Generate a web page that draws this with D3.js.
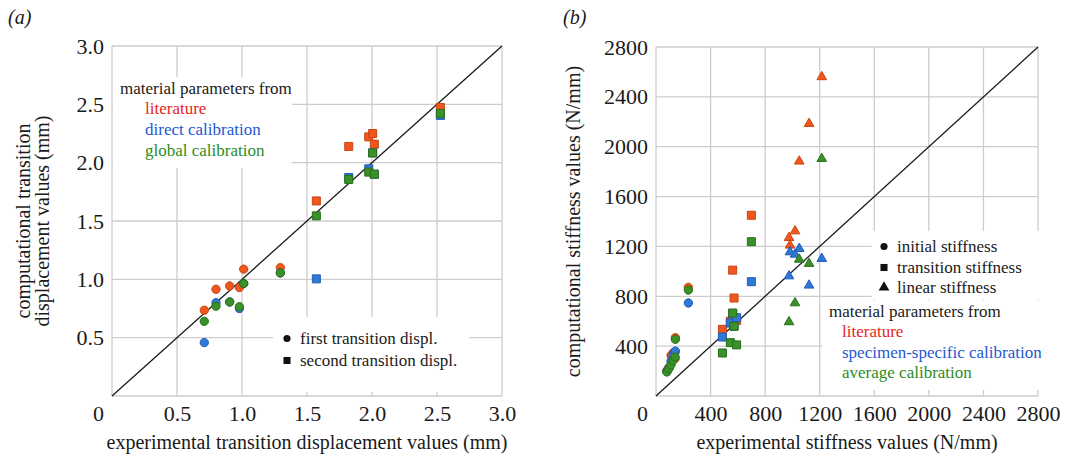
<!DOCTYPE html>
<html><head><meta charset="utf-8">
<script src="https://cdn.jsdelivr.net/npm/d3@7"></script>
<style>
html,body{margin:0;padding:0;background:#fff;}
svg{display:block;}
</style></head>
<body>
<svg id="chart" width="1067" height="460"></svg>
<script>
// ---- (a) transition displacements, mm ----
const dispTicks = [0.5, 1.0, 1.5, 2.0, 2.5, 3.0];
const firstExp     = [0.71, 0.80, 0.905, 0.98, 1.013, 1.295];
const firstLit     = [0.735, 0.915, 0.943, 0.93, 1.087, 1.10];
const firstDirect  = [0.458, 0.80, 0.806, 0.75, 0.964, 1.055];
const firstGlobal  = [0.64, 0.77, 0.806, 0.765, 0.964, 1.055];
const secondExp    = [1.572, 1.821, 1.975, 2.005, 2.018, 2.526];
const secondLit    = [1.672, 2.139, 2.221, 2.25, 2.159, 2.473];
const secondDirect = [1.004, 1.873, 1.947, 2.084, 1.901, 2.405];
const secondGlobal = [1.544, 1.856, 1.919, 2.084, 1.901, 2.422];

// ---- (b) stiffness values, N/mm ----
const stiffTicks = [400, 800, 1200, 1600, 2000, 2400, 2800];
const initialExp  = [80, 95, 110, 125, 140, 142, 237];
const initialLit  = [205, 230, 325, 345, 300, 468, 872];
const initialSpec = [200, 225, 280, 330, 355, 360, 746];
const initialAvg  = [193, 220, 250, 285, 313, 455, 850];
const transitionExp  = [487, 545, 562, 572, 591, 699];
const transitionLit  = [535, 600, 1010, 786, 605, 1450];
const transitionSpec = [473, 585, 660, 560, 628, 917];
const transitionAvg  = [345, 428, 666, 560, 410, 1238];
const linearExp  = [975, 982, 1019, 1050, 1122, 1215];
const linearLit  = [1270, 1209, 1323, 1883, 2185, 2560];
const linearSpec = [962, 1155, 1136, 1182, 888, 1102];
const linearAvg  = [594, null, 746, 1096, 1062, 1904];

const FONT = "'Liberation Serif','Times New Roman',Times,serif";
const PAL = {
  lit:  {fill: "#f0561e", stroke: "#c9450f", text: "#e5261b"},
  spec: {fill: "#2f78d6", stroke: "#1f5db5", text: "#1f57d4"},
  avg:  {fill: "#3a9129", stroke: "#2a6e1b", text: "#2d8c1d"}
};
const GRID = "#cdcdcd";

const svg = d3.select("#chart");

function drawPanel(o) {
  const g = svg.append("g");
  const gridL = g.append("g"), boxL = g.append("g"), diagL = g.append("g"),
        markL = g.append("g"), textL = g.append("g");
  const {x, y, ticks, fmt, max} = o;
  const all = [0, ...ticks];

  gridL.selectAll("line.v").data(all).join("line")
    .attr("x1", d => x(d)).attr("x2", d => x(d))
    .attr("y1", y(0)).attr("y2", y(max))
    .attr("stroke", GRID).attr("stroke-width", 1.3);
  gridL.selectAll("line.h").data(all).join("line")
    .attr("y1", d => y(d)).attr("y2", d => y(d))
    .attr("x1", x(0)).attr("x2", x(max))
    .attr("stroke", GRID).attr("stroke-width", 1.3);

  // tick labels
  const ay = g.append("g").attr("transform", `translate(${x(0)},0)`)
    .call(d3.axisLeft(y).tickValues(ticks).tickSize(0).tickPadding(8).tickFormat(fmt));
  const ax = g.append("g").attr("transform", `translate(0,${y(0)})`)
    .call(d3.axisBottom(x).tickValues(ticks).tickSize(0).tickPadding(9).tickFormat(fmt));
  [ay, ax].forEach(a => {
    a.select(".domain").remove();
    a.selectAll("text").attr("font-family", FONT).attr("font-size", 22).attr("fill", "#1a1a1a");
  });
  g.append("text").attr("x", x(0) - 8).attr("y", y(0) + 9).attr("dy", "0.71em")
    .attr("text-anchor", "end").attr("font-family", FONT).attr("font-size", 22)
    .attr("fill", "#1a1a1a").text("0");

  // identity line
  diagL.append("line").attr("x1", x(0)).attr("y1", y(0)).attr("x2", x(max)).attr("y2", y(max))
    .attr("stroke", "#1a1a1a").attr("stroke-width", 1.3);

  return {g, boxL, markL, textL};
}

const SHAPES = {
  circle: d3.symbol().type(d3.symbolCircle).size(54)(),
  square: d3.symbol().type(d3.symbolSquare).size(64)(),
  triangle: d3.symbol().type(d3.symbolTriangle).size(40)()
};

function plotSeries(layer, x, y, xs, ys, shape, col) {
  const pts = d3.zip(xs, ys).filter(d => d[1] != null);
  layer.append("g").selectAll("path").data(pts).join("path")
    .attr("d", SHAPES[shape])
    .attr("transform", d => `translate(${x(d[0])},${y(d[1])})`)
    .attr("fill", col.fill).attr("stroke", col.stroke).attr("stroke-width", 1);
}

function legendText(layer, items) {
  const grp = layer.append("g");
  items.forEach(it => {
    grp.append("text").attr("x", it.x).attr("y", it.y)
      .attr("font-family", FONT).attr("font-size", 17)
      .attr("fill", it.color || "#1a1a1a").text(it.t);
    if (it.sym) {
      grp.append("path").attr("d", d3.symbol().type(it.sym).size(it.size)())
        .attr("transform", `translate(${it.x - 13},${it.y - 5.5})`).attr("fill", "#111");
    }
  });
  return grp;
}

function backBox(boxL, grp, pad) {
  const b = grp.node().getBBox();
  boxL.append("rect")
    .attr("x", b.x - pad[3]).attr("y", b.y - pad[0])
    .attr("width", b.width + pad[1] + pad[3]).attr("height", b.height + pad[0] + pad[2])
    .attr("fill", "#fff");
}

// ================= panel (a) =================
const xA = d3.scaleLinear([0, 3], [112, 502]);
const yA = d3.scaleLinear([0, 3], [396, 46]);
const pA = drawPanel({x: xA, y: yA, ticks: dispTicks, fmt: d3.format(".1f"), max: 3});

plotSeries(pA.markL, xA, yA, firstExp, firstLit, "circle", PAL.lit);
plotSeries(pA.markL, xA, yA, secondExp, secondLit, "square", PAL.lit);
plotSeries(pA.markL, xA, yA, firstExp, firstDirect, "circle", PAL.spec);
plotSeries(pA.markL, xA, yA, secondExp, secondDirect, "square", PAL.spec);
plotSeries(pA.markL, xA, yA, firstExp, firstGlobal, "circle", PAL.avg);
plotSeries(pA.markL, xA, yA, secondExp, secondGlobal, "square", PAL.avg);

const legA1 = legendText(pA.textL, [
  {x: 120, y: 94, t: "material parameters from"},
  {x: 145, y: 114, t: "literature", color: PAL.lit.text},
  {x: 145, y: 135, t: "direct calibration", color: PAL.spec.text},
  {x: 145, y: 156, t: "global calibration", color: PAL.avg.text}
]);
backBox(pA.boxL, legA1, [2, 0, 8, 7]);
const legA2 = legendText(pA.textL, [
  {x: 300, y: 344, t: "first transition displ.", sym: d3.symbolCircle, size: 40},
  {x: 300, y: 366, t: "second transition displ.", sym: d3.symbolSquare, size: 50}
]);
backBox(pA.boxL, legA2, [12, 12, 22, 10]);

pA.g.append("text").attr("x", xA(1.5)).attr("y", 449).attr("text-anchor", "middle")
  .attr("font-family", FONT).attr("font-size", 20).attr("fill", "#1a1a1a")
  .text("experimental transition displacement values (mm)");
const yTitleA = pA.g.append("text").attr("transform", `translate(0,${yA(1.5)}) rotate(-90)`)
  .attr("text-anchor", "middle").attr("font-family", FONT).attr("font-size", 20).attr("fill", "#1a1a1a");
yTitleA.append("tspan").attr("x", 0).attr("y", 30).text("computational transition");
yTitleA.append("tspan").attr("x", 0).attr("y", 49).text("displacement values (mm)");
pA.g.append("text").attr("x", 8).attr("y", 24).attr("font-family", FONT)
  .attr("font-size", 20).attr("font-style", "italic").attr("fill", "#1a1a1a").text("(a)");

// ================= panel (b) =================
const xB = d3.scaleLinear([0, 2800], [656, 1038]);
const yB = d3.scaleLinear([0, 2800], [396, 47]);
const pB = drawPanel({x: xB, y: yB, ticks: stiffTicks, fmt: d3.format("d"), max: 2800});

plotSeries(pB.markL, xB, yB, initialExp, initialLit, "circle", PAL.lit);
plotSeries(pB.markL, xB, yB, transitionExp, transitionLit, "square", PAL.lit);
plotSeries(pB.markL, xB, yB, linearExp, linearLit, "triangle", PAL.lit);
plotSeries(pB.markL, xB, yB, initialExp, initialSpec, "circle", PAL.spec);
plotSeries(pB.markL, xB, yB, transitionExp, transitionSpec, "square", PAL.spec);
plotSeries(pB.markL, xB, yB, linearExp, linearSpec, "triangle", PAL.spec);
plotSeries(pB.markL, xB, yB, initialExp, initialAvg, "circle", PAL.avg);
plotSeries(pB.markL, xB, yB, transitionExp, transitionAvg, "square", PAL.avg);
plotSeries(pB.markL, xB, yB, linearExp, linearAvg, "triangle", PAL.avg);

const legB1 = legendText(pB.textL, [
  {x: 897, y: 252, t: "initial stiffness", sym: d3.symbolCircle, size: 40},
  {x: 897, y: 273, t: "transition stiffness", sym: d3.symbolSquare, size: 50},
  {x: 897, y: 293, t: "linear stiffness", sym: d3.symbolTriangle, size: 50}
]);
backBox(pB.boxL, legB1, [6, 20, 2, 7]);
const legB2 = legendText(pB.textL, [
  {x: 829, y: 317, t: "material parameters from"},
  {x: 842, y: 337, t: "literature", color: PAL.lit.text},
  {x: 842, y: 358, t: "specimen-specific calibration", color: PAL.spec.text},
  {x: 842, y: 378, t: "average calibration", color: PAL.avg.text}
]);
backBox(pB.boxL, legB2, [2, 6, 8, 7]);

pB.g.append("text").attr("x", xB(1400)).attr("y", 449).attr("text-anchor", "middle")
  .attr("font-family", FONT).attr("font-size", 20).attr("fill", "#1a1a1a")
  .text("experimental stiffness values (N/mm)");
pB.g.append("text").attr("transform", `translate(580,${yB(1400)}) rotate(-90)`)
  .attr("text-anchor", "middle").attr("font-family", FONT).attr("font-size", 20).attr("fill", "#1a1a1a")
  .text("computational stiffness values (N/mm)");
pB.g.append("text").attr("x", 563).attr("y", 24).attr("font-family", FONT)
  .attr("font-size", 20).attr("font-style", "italic").attr("fill", "#1a1a1a").text("(b)");
</script>
</body></html>
